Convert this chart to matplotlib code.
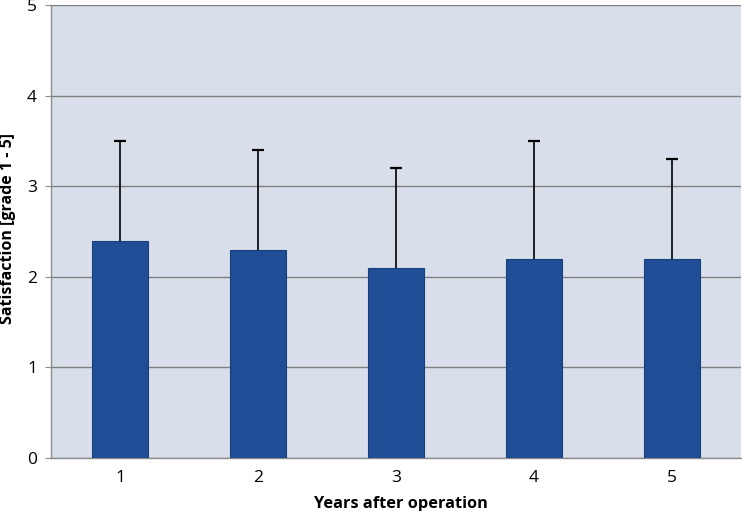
import matplotlib
matplotlib.use("Agg")
import matplotlib.pyplot as plt
import numpy as np

categories = ["1", "2", "3", "4", "5"]
means = [2.4, 2.3, 2.1, 2.2, 2.2]
sds = [1.1, 1.1, 1.1, 1.3, 1.1]
yticks = [0, 1, 2, 3, 4, 5]

plt.rcParams['font.family'] = ['Open Sans', 'DejaVu Sans']

fig = plt.figure(figsize=(7.42, 5.11), dpi=100)
ax = fig.add_axes([51/742, 1-457.7/511, 690/742, (457.7-5.5)/511])
ax.set_facecolor('#D9DFEA')

x = np.arange(len(categories))
m = np.array(means)
s = np.array(sds)
ax.bar(x, m, width=0.405, color='#1F4E96', edgecolor='#17407A', linewidth=0.8, zorder=3)
ax.vlines(x, m, m + s, color='black', linewidth=1.2, zorder=4)
ax.plot(x, m + s, linestyle='none', marker='_', markersize=9, markeredgewidth=1.6,
        color='black', zorder=4)

ax.set_xlim(-0.5, 4.5)
ax.set_ylim(0, 5)
ax.set_yticks(yticks)
ax.set_yticklabels([str(t) for t in yticks])
ax.set_xticks(x)
ax.set_xticklabels(categories)
ax.yaxis.grid(True, color='#808080', linewidth=1.0, zorder=1)
ax.set_axisbelow(True)

for sp in ['top', 'right']:
    ax.spines[sp].set_visible(False)
ax.spines['left'].set_color('#8C8C8C')
ax.spines['bottom'].set_color('#8C8C8C')
ax.spines['left'].set_linewidth(1.0)
ax.spines['bottom'].set_linewidth(1.0)

ax.tick_params(axis='y', length=4, color='#8C8C8C', pad=6, labelsize=12.5)
ax.tick_params(axis='x', length=0, pad=9, labelsize=12.5)

ax.set_ylabel('Satisfaction [grade 1 - 5]', fontsize=11.5, fontweight='bold')
ax.yaxis.set_label_coords(-0.05, 0.507)
ax.set_xlabel('Years after operation', fontsize=11.8, fontweight='bold')
ax.xaxis.set_label_coords(0.507, -0.085)

fig.savefig('out.png', dpi=100)
